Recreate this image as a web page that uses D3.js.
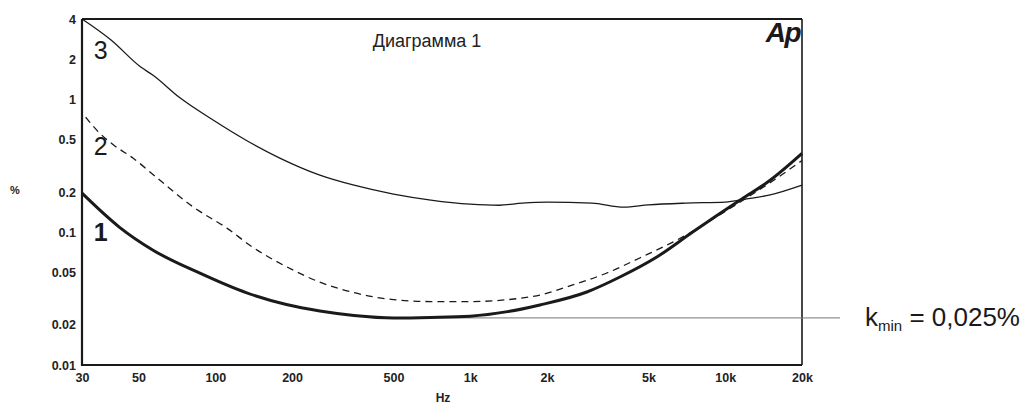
<!DOCTYPE html>
<html>
<head>
<meta charset="utf-8">
<script src="https://cdn.jsdelivr.net/npm/d3@7"></script>
<style>
  body { margin: 0; background: #fff; }
  svg { display: block; font-family: "Liberation Sans", Arial, sans-serif; }
</style>
</head>
<body>
<svg id="chart" width="1026" height="405"></svg>
<script>
  // frequencies (Hz) and distortion values (%)
  var freq1 = [30, 42, 57, 87, 132, 190, 257, 350, 500, 700, 1000, 1400, 1875, 2865, 3863, 5390, 7452, 9272, 11617, 15000, 20000];
  var curve1 = [0.196, 0.109, 0.073, 0.049, 0.035, 0.0285, 0.0255, 0.0236, 0.0226, 0.0228, 0.0233, 0.0252, 0.0283, 0.0354, 0.0459, 0.0649, 0.100, 0.133, 0.177, 0.245, 0.39];

  var freq2 = [31, 35, 40, 47.5, 60.5, 82, 111, 140, 191, 257, 350, 500, 700, 1000, 1400, 1875, 2523, 3434, 4621, 6459, 7500, 10000, 15000, 20000];
  var curve2 = [0.73, 0.56, 0.45, 0.36, 0.246, 0.154, 0.107, 0.077, 0.0546, 0.042, 0.035, 0.031, 0.030, 0.030, 0.031, 0.0336, 0.040, 0.0492, 0.0638, 0.087, 0.102, 0.143, 0.235, 0.345];

  var freq3 = [30, 39, 51, 57, 72, 98, 132, 179, 257, 350, 500, 700, 1000, 1300, 1600, 2000, 3000, 4000, 5000, 7000, 10000, 12000, 15000, 20000];
  var curve3 = [4, 2.78, 1.74, 1.51, 1.035, 0.695, 0.49, 0.36, 0.268, 0.225, 0.193, 0.174, 0.162, 0.159, 0.165, 0.168, 0.165, 0.154, 0.16, 0.165, 0.168, 0.177, 0.19, 0.225];

  var xTicks = [30, 50, 100, 200, 500, 1000, 2000, 5000, 10000, 20000];
  var xTickLabels = ['30', '50', '100', '200', '500', '1k', '2k', '5k', '10k', '20k'];
  var yTicks = [0.01, 0.02, 0.05, 0.1, 0.2, 0.5, 1, 2, 4];

  var kmin = 0.0226;
  var kminFrom = 500;

(function() {
  var svg = d3.select('#chart');
  var mLeft = 82, mRight = 802, mTop = 19, mBottom = 365;
  var font = '"Liberation Sans", Arial, sans-serif';

  var x = d3.scaleLog().domain([30, 20000]).range([mLeft, mRight]);
  var y = d3.scaleLog().domain([0.01, 4]).range([mBottom, mTop]);

  // axes (labels only, no tick marks)
  var xAxis = svg.append('g')
    .attr('transform', 'translate(0,' + (mBottom + 5) + ')')
    .call(d3.axisBottom(x).tickValues(xTicks).tickSize(0).tickFormat(function(d, i) {
      return xTickLabels[i];
    }));
  xAxis.select('.domain').remove();
  xAxis.selectAll('text').attr('font-size', 12.5).attr('font-weight', 'bold')
    .attr('font-family', font).attr('fill', '#222');

  var yAxis = svg.append('g')
    .attr('transform', 'translate(' + (mLeft - 3) + ',0)')
    .call(d3.axisLeft(y).tickValues(yTicks).tickSize(0).tickFormat(function(d) {
      return String(d);
    }));
  yAxis.select('.domain').remove();
  yAxis.selectAll('text').attr('font-size', 12.5).attr('font-weight', 'bold')
    .attr('font-family', font).attr('fill', '#222');

  // frame
  svg.append('path')
    .attr('d', 'M' + mLeft + ',' + mTop + 'V' + mBottom + 'H' + mRight)
    .attr('fill', 'none').attr('stroke', '#1a1a1a').attr('stroke-width', 2.2);
  svg.append('line')
    .attr('x1', mLeft).attr('x2', mRight).attr('y1', mTop).attr('y2', mTop)
    .attr('stroke', '#1a1a1a').attr('stroke-width', 2.2);
  svg.append('line')
    .attr('x1', mRight).attr('x2', mRight).attr('y1', mTop).attr('y2', mBottom)
    .attr('stroke', '#1a1a1a').attr('stroke-width', 1.6);

  // kmin reference line
  svg.append('line')
    .attr('x1', x(kminFrom)).attr('x2', x(20000) + 38)
    .attr('y1', y(kmin)).attr('y2', y(kmin))
    .attr('stroke', '#777').attr('stroke-width', 1);

  var line = function(fs) {
    return d3.line()
      .x(function(d, i) { return x(fs[i]); })
      .y(function(d) { return y(d); })
      .curve(d3.curveMonotoneX);
  };

  svg.append('path').datum(curve3).attr('d', line(freq3))
    .attr('fill', 'none').attr('stroke', '#1a1a1a').attr('stroke-width', 1.3);
  svg.append('path').datum(curve2).attr('d', line(freq2))
    .attr('fill', 'none').attr('stroke', '#1a1a1a').attr('stroke-width', 1.3)
    .attr('stroke-dasharray', '7,5');
  svg.append('path').datum(curve1).attr('d', line(freq1))
    .attr('fill', 'none').attr('stroke', '#1a1a1a').attr('stroke-width', 3);

  // curve numbers
  var nums = [
    { t: '3', v: 2.34, w: 'normal' },
    { t: '2', v: 0.443, w: 'normal' },
    { t: '1', v: 0.1, w: 'bold' }
  ];
  svg.selectAll('.num').data(nums).enter().append('text')
    .attr('x', x(35.5)).attr('y', function(d) { return y(d.v); })
    .attr('text-anchor', 'middle').attr('dominant-baseline', 'central')
    .attr('font-size', 25).attr('font-weight', function(d) { return d.w; })
    .attr('fill', '#1a1a1a')
    .text(function(d) { return d.t; });

  // texts
  svg.append('text').attr('x', 427).attr('y', 47).attr('text-anchor', 'middle')
    .attr('font-size', 18).attr('fill', '#222').text('Диаграмма 1');

  svg.append('text').attr('x', mRight - 2).attr('y', 42).attr('text-anchor', 'end')
    .attr('font-size', 28).attr('font-weight', 'bold').attr('font-style', 'italic')
    .attr('letter-spacing', -1.5).attr('fill', '#1a1a1a').text('Ap');

  svg.append('text').attr('x', 15).attr('y', 194).attr('text-anchor', 'middle')
    .attr('font-size', 11).attr('font-weight', 'bold').attr('fill', '#222').text('%');

  svg.append('text').attr('x', 443).attr('y', 402).attr('text-anchor', 'middle')
    .attr('font-size', 12).attr('font-weight', 'bold').attr('fill', '#222').text('Hz');

  var k = svg.append('text').attr('x', 865).attr('y', 326)
    .attr('font-size', 26).attr('fill', '#1a1a1a');
  k.append('tspan').text('k');
  k.append('tspan').attr('font-size', 15).attr('dy', 5).text('min');
  k.append('tspan').attr('dy', -5).text(' = 0,025%');
}).call(this);
</script>
</body>
</html>
